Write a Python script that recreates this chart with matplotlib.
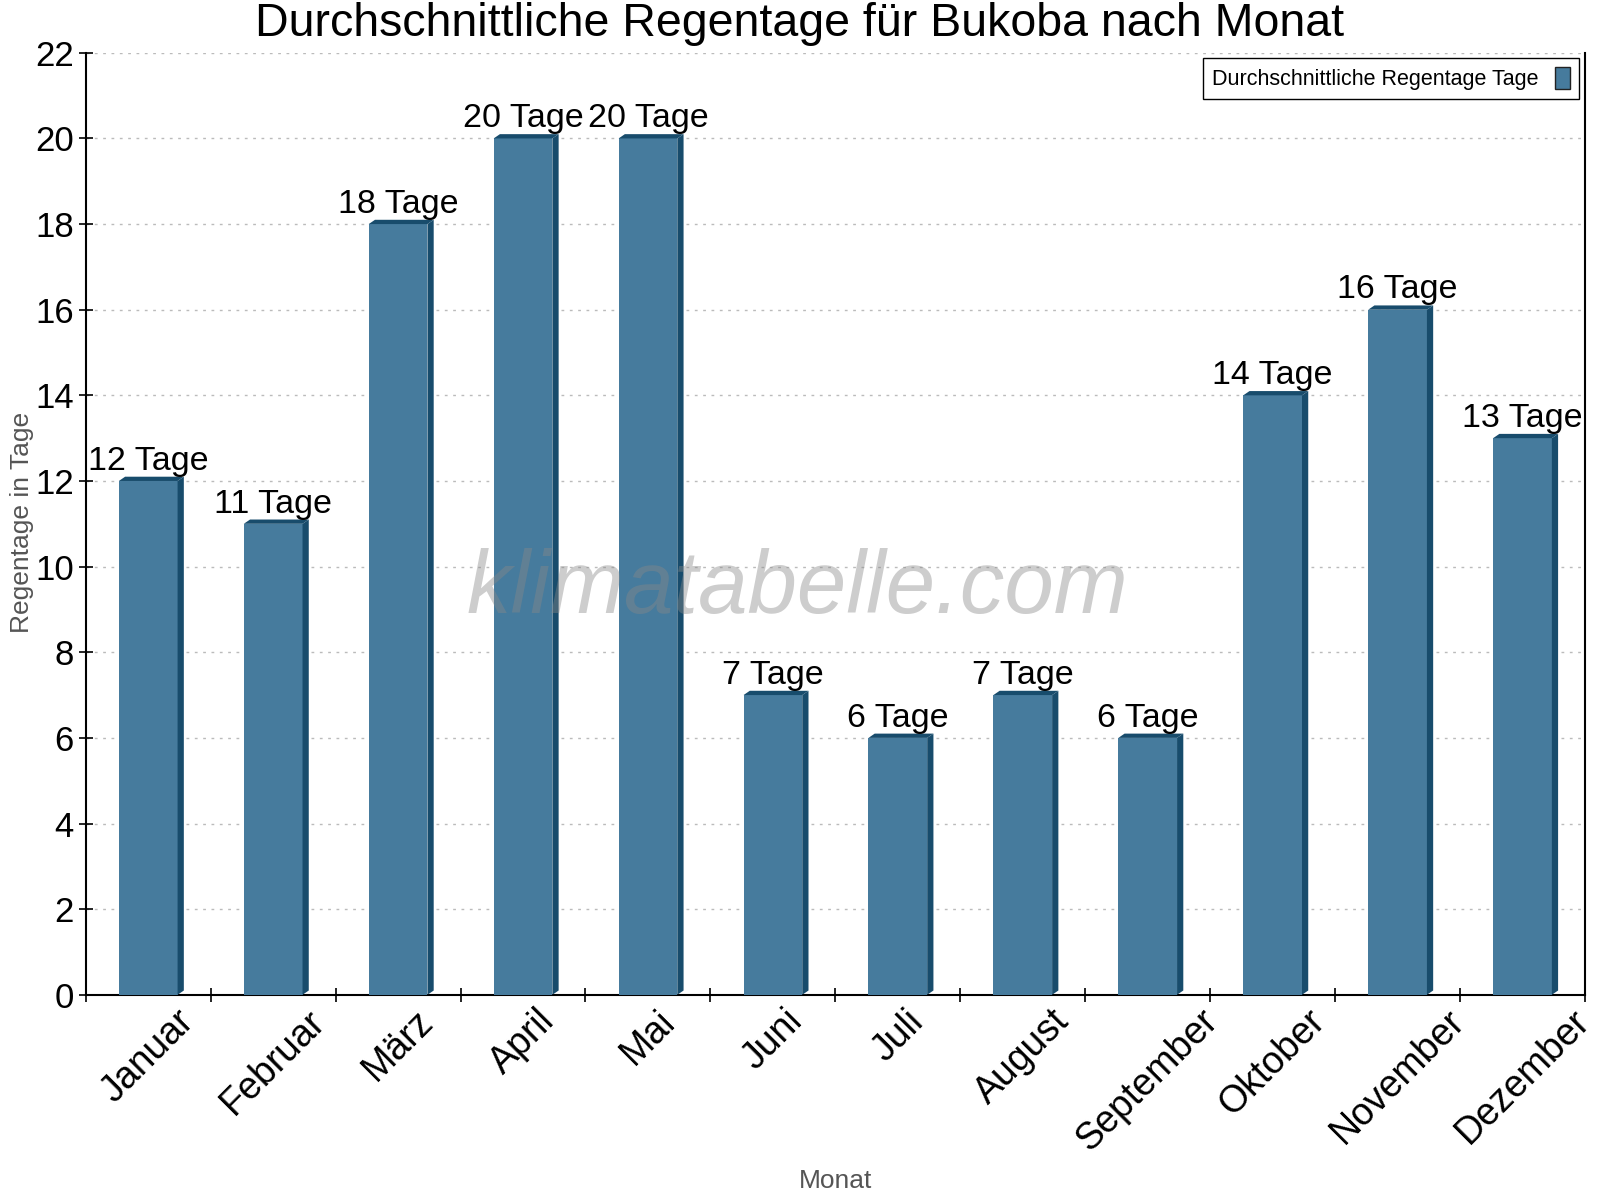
import matplotlib
matplotlib.use('Agg')
import matplotlib.pyplot as plt
from matplotlib.patches import Polygon, Rectangle
import numpy as np

months = ['Januar', 'Februar', 'März', 'April', 'Mai', 'Juni', 'Juli',
          'August', 'September', 'Oktober', 'November', 'Dezember']
rain_days = [12, 11, 18, 20, 20, 7, 6, 7, 6, 14, 16, 13]
y_ticks = [0, 2, 4, 6, 8, 10, 12, 14, 16, 18, 20, 22]

plt.rcParams['font.family'] = ['Liberation Sans', 'DejaVu Sans']

front = '#467b9d'
dark = '#184c6c'

fig = plt.figure(figsize=(16, 12), dpi=100)
ax = fig.add_axes([0.0536, 0.171, 0.937, 0.785])

x = np.arange(len(months))
w = 0.47
dx, dy = 0.05, 0.1   # fake 3d depth
for xi, v in zip(x, rain_days):
    x0 = xi - w / 2
    ax.add_patch(Rectangle((x0, 0), w, v, facecolor=front, edgecolor='none', zorder=3))
    ax.add_patch(Polygon([(x0 + w, 0), (x0 + w + dx, dy), (x0 + w + dx, v + dy), (x0 + w, v)],
                         closed=True, facecolor=dark, edgecolor='none', zorder=3))
    ax.add_patch(Polygon([(x0, v), (x0 + dx, v + dy), (x0 + w + dx, v + dy), (x0 + w, v)],
                         closed=True, facecolor=dark, edgecolor='none', zorder=3))
    ax.text(xi, v + dy, f'{v} Tage', ha='center', va='bottom', fontsize=24.5, zorder=5)

ax.set_xlim(-0.5, len(months) - 0.5)
ax.set_ylim(0, 22)
ax.set_yticks(y_ticks)
ax.tick_params(axis='y', labelsize=25, direction='inout', length=10, width=1.2)
ax.set_xticks(x)
ax.set_xticklabels(months, rotation=45, ha='center', fontsize=27)
ax.tick_params(axis='x', which='major', length=0, pad=6)
ax.set_xticks(np.arange(-0.5, len(months), 1.0), minor=True)
ax.tick_params(axis='x', which='minor', direction='inout', length=10, width=1.2)

ax.grid(axis='y', linestyle=(0, (2, 4)), color='#bbbbbb', linewidth=1, zorder=0)
ax.spines['top'].set_visible(False)
for s in ('left', 'right', 'bottom'):
    ax.spines[s].set_linewidth(1.5)

# axis titles placed as figure text so they sit where the reference has them
fig.text(0.0135, 0.565, 'Regentage in Tage', rotation=90, ha='center', va='center',
         fontsize=19, color='#555555')
fig.text(0.522, 0.016, 'Monat', ha='center', va='center', fontsize=19, color='#555555')

fig.text(0.5, 0.98, 'Durchschnittliche Regentage für Bukoba nach Monat',
         ha='center', va='center', fontsize=33.5)

ax.text(0.475, 0.43, 'klimatabelle.com', transform=ax.transAxes, ha='center', va='center',
        fontsize=64, style='italic', color='#888888', alpha=0.42, zorder=4)

handle = Rectangle((0, 0), 1, 1, facecolor=front, edgecolor='#222222', linewidth=1)
leg = ax.legend([handle], ['Durchschnittliche Regentage Tage'], loc='upper right',
                bbox_to_anchor=(0.996, 0.994), fontsize=15.5, markerfirst=False,
                fancybox=False, framealpha=1, edgecolor='black',
                handlelength=0.7, handleheight=1.2, borderpad=0.4, borderaxespad=0)
leg.get_frame().set_linewidth(1)

fig.savefig('out.png', dpi=100)
